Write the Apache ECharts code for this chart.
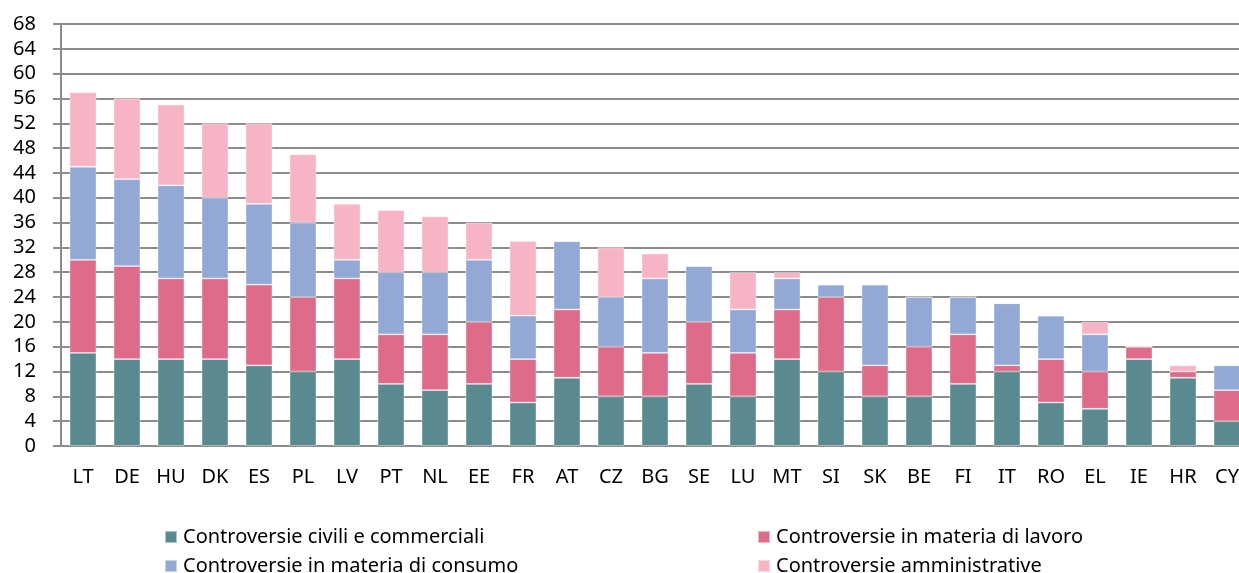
<!DOCTYPE html>
<html>
<head>
<meta charset="utf-8">
<script src="https://cdn.jsdelivr.net/npm/echarts@6/dist/echarts.min.js"></script>
<style>
  html, body { margin: 0; padding: 0; background: #fff; overflow: hidden; }
  /* slightly wider than the window: the plot runs past the right edge, as in the source */
  #chart { width: 1249px; height: 573px; }
</style>
</head>
<body>
<div id="chart"></div>
<script>
const countries = ['LT', 'DE', 'HU', 'DK', 'ES', 'PL', 'LV', 'PT', 'NL', 'EE', 'FR', 'AT', 'CZ', 'BG',
    'SE', 'LU', 'MT', 'SI', 'SK', 'BE', 'FI', 'IT', 'RO', 'EL', 'IE', 'HR', 'CY'];
const civili = [15, 14, 14, 14, 13, 12, 14, 10, 9, 10, 7, 11, 8, 8, 10, 8, 14, 12, 8, 8, 10, 12, 7, 6, 14, 11, 4];
const lavoro = [15, 15, 13, 13, 13, 12, 13, 8, 9, 10, 7, 11, 8, 7, 10, 7, 8, 12, 5, 8, 8, 1, 7, 6, 2, 1, 5];
const consumo = [15, 14, 15, 13, 13, 12, 3, 10, 10, 10, 7, 11, 8, 12, 9, 7, 5, 2, 13, 8, 6, 10, 7, 6, 0, 0, 4];
const amministrative = [12, 13, 13, 12, 13, 11, 9, 10, 9, 6, 12, 0, 8, 4, 0, 6, 1, 0, 0, 0, 0, 0, 0, 2, 0, 1, 0];
const seriesNames = ['Controversie civili e commerciali', 'Controversie in materia di lavoro',
    'Controversie in materia di consumo', 'Controversie amministrative'];
const colors = ['#5a8a8f', '#df6b8a', '#92a9d5', '#f6b4c5'];

const chart = echarts.init(document.getElementById('chart'));
const font = 'Noto Sans, Liberation Sans, sans-serif';

function bar(name, data, color) {
    return {
        name: name,
        type: 'bar',
        stack: 'tot',
        data: data,
        barCategoryGap: '39%',
        itemStyle: { color: color, borderColor: 'rgba(255,255,255,0.5)', borderWidth: 0.8 },
        emphasis: { disabled: true }
    };
}

// one legend per entry, laid out as two columns of two rows
function legendItem(name, left, top) {
    return {
        data: [name],
        left: left, top: top,
        itemWidth: 12, itemHeight: 12,
        icon: 'rect',
        selectedMode: false,
        textStyle: { fontFamily: font, fontSize: 20, color: '#000', padding: [0, 0, 0, 1] }
    };
}

chart.setOption({
    animation: false,
    color: colors,
    grid: { left: 61, right: 0, top: 24, bottom: 127 },
    legend: [
        legendItem(seriesNames[0], 159, 522),
        legendItem(seriesNames[2], 159, 551),
        legendItem(seriesNames[1], 752, 522),
        legendItem(seriesNames[3], 752, 551)
    ],
    xAxis: {
        type: 'category',
        data: countries,
        axisLine: { lineStyle: { color: '#8c8c8c', width: 2 } },
        axisTick: { length: 7, lineStyle: { color: '#8c8c8c', width: 1.5 } },
        axisLabel: { fontFamily: font, fontSize: 20, color: '#000', margin: 21 }
    },
    yAxis: {
        type: 'value',
        min: 0,
        max: 68,
        interval: 4,
        axisLine: { show: true, lineStyle: { color: '#8c8c8c', width: 2 } },
        axisTick: { show: true, length: 8, lineStyle: { color: '#8c8c8c', width: 2 } },
        axisLabel: { fontFamily: font, fontSize: 20, color: '#000', margin: 25 },
        splitLine: { lineStyle: { color: '#8c8c8c', width: 2 } }
    },
    series: [
        bar(seriesNames[0], civili, colors[0]),
        bar(seriesNames[1], lavoro, colors[1]),
        bar(seriesNames[2], consumo, colors[2]),
        bar(seriesNames[3], amministrative, colors[3])
    ]
});
</script>
</body>
</html>
